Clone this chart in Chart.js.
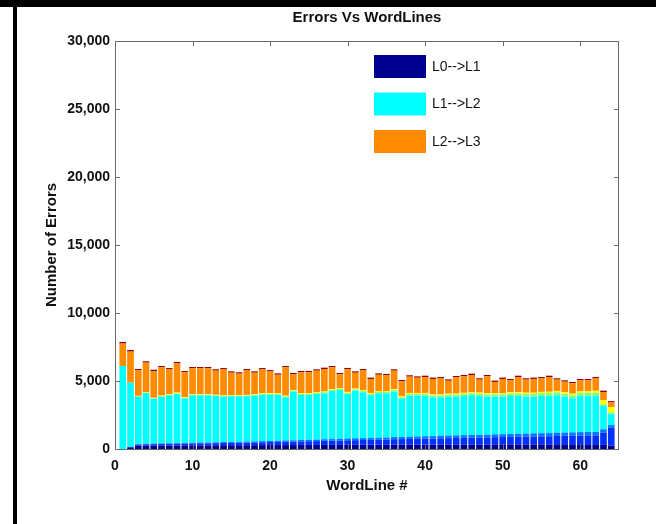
<!DOCTYPE html>
<html>
<head>
<meta charset="utf-8">
<script src="https://cdn.jsdelivr.net/npm/chart.js@4.4.0/dist/chart.umd.min.js"></script>
<style>
  body { margin: 0; background: #fff; }
  #wrap { position: relative; width: 656px; height: 524px; overflow: hidden; }
  .bar-top { position: absolute; left: 0; top: 0; width: 656px; height: 7px; background: #000; }
  .bar-left { position: absolute; left: 13px; top: 0; width: 4px; height: 524px; background: #000; }
  canvas { position: absolute; left: 0; top: 0; }
</style>
</head>
<body>
<div id="wrap">
  <div class="bar-top"></div>
  <div class="bar-left"></div>
  <canvas id="chart" width="656" height="524"></canvas>
</div>
<script>
// Word line numbers (x categories)
const wordLines = [1, 2, 3, 4, 5, 6, 7, 8, 9, 10, 11, 12, 13, 14, 15, 16, 17, 18, 19, 20,
    21, 22, 23, 24, 25, 26, 27, 28, 29, 30, 31, 32, 33, 34, 35, 36, 37, 38, 39, 40,
    41, 42, 43, 44, 45, 46, 47, 48, 49, 50, 51, 52, 53, 54, 55, 56, 57, 58, 59, 60,
    61, 62, 63, 64];

// Tick labels
const xTicks = [0, 10, 20, 30, 40, 50, 60];
const yTicks = [0, 5000, 10000, 15000, 20000, 25000, 30000];

const chartTitle = 'Errors Vs WordLines';

// Stacked error counts, bottom to top
const errL0L1 = [0, 120, 240, 250, 250, 260, 260, 260, 270, 270,
    270, 270, 270, 280, 280, 280, 280, 280, 290, 290,
    290, 290, 290, 300, 300, 300, 300, 300, 300, 310,
    310, 310, 310, 310, 310, 320, 320, 320, 320, 320,
    320, 330, 330, 330, 330, 330, 330, 330, 340, 340,
    340, 340, 340, 340, 340, 340, 350, 350, 350, 350,
    350, 350, 300, 260];
const errBlue = [0, 30, 90, 100, 110, 110, 120, 120, 130, 140,
    150, 150, 160, 170, 170, 180, 190, 200, 210, 220,
    230, 240, 250, 260, 270, 280, 300, 310, 320, 330,
    340, 350, 360, 370, 380, 400, 410, 420, 430, 440,
    450, 460, 470, 480, 490, 500, 510, 520, 530, 540,
    550, 560, 570, 580, 590, 600, 610, 620, 630, 640,
    650, 650, 900, 1300];
const errAzure = [0, 10, 30, 30, 40, 40, 40, 50, 50, 50,
    60, 60, 60, 70, 70, 70, 80, 80, 80, 90,
    90, 100, 100, 100, 110, 110, 120, 120, 130, 130,
    140, 140, 150, 150, 150, 160, 160, 170, 170, 180,
    180, 190, 190, 190, 200, 200, 200, 210, 210, 210,
    220, 220, 220, 230, 230, 230, 240, 240, 240, 250,
    250, 250, 250, 200];
const errL1L2 = [6100, 4720, 3490, 3740, 3300, 3440, 3530, 3610, 3270, 3490,
    3470, 3470, 3410, 3330, 3360, 3350, 3330, 3360, 3410, 3390,
    3360, 3170, 3580, 3310, 3290, 3350, 3370, 3530, 3590, 3270,
    3500, 3370, 3130, 3260, 3250, 3340, 2810, 3010, 3000, 2980,
    2850, 2820, 2860, 2850, 2880, 2920, 2860, 2790, 2770, 2760,
    2790, 2780, 2720, 2700, 2740, 2730, 2750, 2640, 2510, 2660,
    2650, 2650, 1710, 800];
const errGreen = [0, 0, 20, 20, 20, 30, 30, 30, 30, 30,
    30, 40, 40, 40, 40, 40, 50, 50, 50, 50,
    60, 60, 60, 70, 70, 70, 80, 80, 80, 90,
    90, 90, 100, 100, 100, 110, 110, 120, 120, 120,
    130, 130, 140, 140, 150, 150, 160, 160, 170, 170,
    180, 180, 190, 190, 200, 200, 210, 210, 220, 220,
    230, 230, 120, 120];
const errYellow = [0, 0, 40, 40, 50, 50, 50, 80, 50, 50,
    50, 50, 50, 50, 50, 50, 50, 50, 60, 60,
    60, 60, 60, 60, 60, 60, 60, 60, 60, 70,
    70, 70, 70, 70, 70, 70, 70, 80, 80, 80,
    80, 80, 80, 80, 80, 80, 90, 90, 90, 90,
    100, 100, 100, 100, 100, 110, 110, 110, 120, 120,
    130, 150, 320, 390];
const errL2L3 = [1650, 2280, 1870, 2170, 1960, 2070, 1820, 2150, 1830, 1900,
    1900, 1890, 1770, 1910, 1640, 1570, 1800, 1590, 1750, 1600,
    1370, 2080, 1150, 1540, 1540, 1590, 1650, 1600, 1010, 1660,
    1160, 1450, 1030, 1200, 1160, 1360, 1090, 1200, 1120, 1170,
    1140, 1180, 950, 1200, 1210, 1260, 950, 1240, 820, 1040,
    870, 1110, 960, 1010, 990, 1080, 830, 780, 760, 810,
    790, 910, 590, 350];
const errDarkRed = [120, 120, 100, 100, 100, 100, 100, 100, 100, 100,
    100, 100, 100, 100, 100, 100, 100, 100, 100, 100,
    100, 100, 100, 100, 100, 100, 100, 100, 100, 100,
    100, 100, 100, 100, 100, 100, 100, 100, 100, 100,
    100, 100, 100, 100, 100, 100, 100, 100, 100, 100,
    100, 100, 100, 100, 100, 100, 100, 100, 100, 100,
    100, 100, 100, 100];

// Series shown in the legend
const legendNames = ['L0-->L1', 'L1-->L2', 'L2-->L3'];

const series = [
    { label: 'L0-->L1', data: errL0L1, color: '#00008f' },
    { label: 'band 2', data: errBlue, color: '#0030ff' },
    { label: 'band 3', data: errAzure, color: '#0078ff' },
    { label: 'L1-->L2', data: errL1L2, color: '#00ffff' },
    { label: 'band 5', data: errGreen, color: '#80ff80' },
    { label: 'band 6', data: errYellow, color: '#ffff00' },
    { label: 'L2-->L3', data: errL2L3, color: '#ff8c00' },
    { label: 'band 8', data: errDarkRed, color: '#900000' }
];

const FONT = '"Liberation Sans", Arial, sans-serif';

// Box, inward ticks, title and legend, Matlab style
const framePlugin = {
    id: 'frame',
    afterDatasetsDraw(chart) {
        const { ctx, chartArea: a, scales: { x, y } } = chart;
        ctx.save();
        ctx.strokeStyle = '#6a6a6a';
        ctx.lineWidth = 1;
        ctx.strokeRect(a.left + 0.5, a.top + 0.5, a.width - 1, a.height);
        ctx.beginPath();
        xTicks.forEach(v => {
            const px = Math.round(x.getPixelForValue(v)) + 0.5;
            ctx.moveTo(px, a.bottom); ctx.lineTo(px, a.bottom - 5);
            ctx.moveTo(px, a.top); ctx.lineTo(px, a.top + 5);
        });
        yTicks.forEach(v => {
            const py = Math.round(y.getPixelForValue(v)) + 0.5;
            ctx.moveTo(a.left, py); ctx.lineTo(a.left + 5, py);
            ctx.moveTo(a.right, py); ctx.lineTo(a.right - 5, py);
        });
        ctx.stroke();

        // title centred on the plot box
        ctx.fillStyle = '#111';
        ctx.font = 'bold 15px ' + FONT;
        ctx.textAlign = 'center';
        ctx.textBaseline = 'middle';
        ctx.fillText(chartTitle, (a.left + a.right) / 2, 18);

        // legend
        ctx.font = '14px ' + FONT;
        ctx.textAlign = 'left';
        legendNames.forEach((name, i) => {
            const s = series.find(d => d.label === name);
            const top = 55 + i * 37.5;
            ctx.fillStyle = s.color;
            ctx.fillRect(374, top, 52, 23);
            ctx.fillStyle = '#111';
            ctx.fillText(name, 432, top + 12);
        });
        ctx.restore();
    }
};

const ctx = document.getElementById('chart').getContext('2d');
new Chart(ctx, {
    type: 'bar',
    data: {
        datasets: series.map(s => ({
            label: s.label,
            data: s.data.map((v, i) => ({ x: wordLines[i], y: v })),
            backgroundColor: s.color,
            borderWidth: 0,
            barPercentage: 1,
            categoryPercentage: 0.86
        }))
    },
    options: {
        responsive: false,
        animation: false,
        layout: { padding: { left: 0, right: 37, top: 41, bottom: 25 } },
        plugins: {
            legend: { display: false },
            tooltip: { enabled: false },
            title: { display: false }
        },
        scales: {
            x: {
                type: 'linear',
                offset: false,
                stacked: true,
                min: 0,
                max: 65,
                grid: { display: false, drawTicks: false, offset: false },
                border: { display: false },
                afterBuildTicks: s => { s.ticks = xTicks.map(v => ({ value: v })); },
                afterFit: s => { s.height = 50; },
                ticks: {
                    includeBounds: false,
                    padding: 9,
                    color: '#111',
                    font: { family: FONT, size: 14, weight: 'bold' }
                },
                title: {
                    display: true,
                    text: 'WordLine #',
                    color: '#111',
                    font: { family: FONT, size: 15, weight: 'bold' },
                    padding: { top: 0, bottom: 4 }
                }
            },
            y: {
                stacked: true,
                min: 0,
                max: 30000,
                grid: { display: false, drawTicks: false },
                border: { display: false },
                afterBuildTicks: s => { s.ticks = yTicks.map(v => ({ value: v })); },
                afterFit: s => { s.width = 115; },
                ticks: {
                    padding: 5,
                    color: '#111',
                    font: { family: FONT, size: 14, weight: 'bold' },
                    callback: v => v.toLocaleString('en-US')
                },
                title: {
                    display: true,
                    text: 'Number of Errors',
                    color: '#111',
                    font: { family: FONT, size: 15, weight: 'bold' },
                    padding: { top: 43, bottom: 0 }
                }
            }
        }
    },
    plugins: [framePlugin]
});
</script>
</body>
</html>
